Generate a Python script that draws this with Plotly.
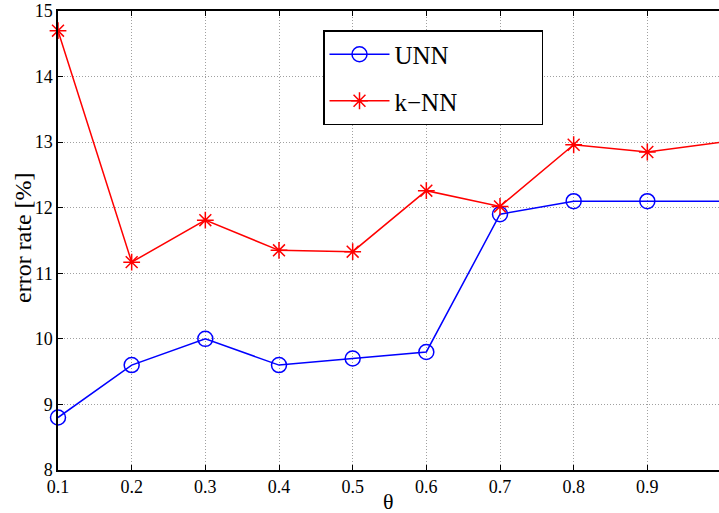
import plotly.graph_objects as go

theta = [0.1, 0.2, 0.3, 0.4, 0.5, 0.6, 0.7, 0.8, 0.9, 1.0]
unn = [8.8, 9.6, 10.0, 9.6, 9.7, 9.8, 11.9, 12.1, 12.1, 12.1]
knn = [14.7, 11.17, 11.81, 11.35, 11.33, 12.26, 12.02, 12.96, 12.85, 13.0]
xticks = [0.1, 0.2, 0.3, 0.4, 0.5, 0.6, 0.7, 0.8, 0.9, 1.0]
xticklabels = ["0.1", "0.2", "0.3", "0.4", "0.5", "0.6", "0.7", "0.8", "0.9", "1"]
yticks = [8, 9, 10, 11, 12, 13, 14, 15]

W, H = 719, 513
L, R, T, B = 58, 0, 11, 43
PW, PH = W - L - R, H - T - B
px_per_tenth = (721 - 58) / 9.0
xmax = 0.1 + PW / px_per_tenth * 0.1

serif = "Times New Roman, Liberation Serif, DejaVu Serif, serif"
pad = "\u00a0" * 14

fig = go.Figure()
fig.add_trace(go.Scatter(
    x=theta, y=unn, name="UNN" + pad, mode="lines+markers",
    line=dict(color="#0000ff", width=1.5),
    marker=dict(symbol="circle-open", size=15, color="#0000ff", line=dict(width=1.5)),
    cliponaxis=False, legendgroup="a"))
fig.add_trace(go.Scatter(
    x=theta, y=knn, name="k\u2212NN", mode="lines+markers",
    line=dict(color="#ff0000", width=1.5),
    marker=dict(symbol="asterisk-open", size=14, color="#ff0000", line=dict(width=1.5, color="#ff0000")),
    cliponaxis=False, legendgroup="b"))

grid = dict(showgrid=True, gridcolor="#a0a0a0", gridwidth=1, griddash="1px,2px")
fig.update_layout(
    width=W, height=H,
    margin=dict(l=L, r=R, t=T, b=B, autoexpand=False),
    paper_bgcolor="white", plot_bgcolor="white",
    font=dict(family=serif, size=18, color="black"),
    showlegend=True,
    legend=dict(x=(323 - L) / PW, y=1 - (30 - T) / PH,
                xanchor="left", yanchor="top",
                bordercolor="black", borderwidth=1.5, bgcolor="white",
                font=dict(family=serif, size=25, color="black"),
                itemwidth=60, tracegroupgap=11),
    xaxis=dict(range=[0.1, xmax], tickmode="array", tickvals=xticks[:-1], ticktext=xticklabels[:-1],
               ticks="inside", ticklen=5, tickwidth=1, tickcolor="black",
               showline=True, linecolor="black", linewidth=1.5, mirror="ticks",
               zeroline=False, automargin=False, tickfont=dict(family=serif, size=18), **grid),
    yaxis=dict(range=[8, 15], tickmode="array", tickvals=yticks,
               ticks="inside", ticklen=5, tickwidth=1, tickcolor="black",
               showline=True, linecolor="black", linewidth=1.5, mirror=False,
               zeroline=False, automargin=False, tickfont=dict(family=serif, size=18), **grid),
)
fig.add_annotation(x=1.0, xref="x", y=0, yref="paper", yanchor="top", yshift=-4,
                   text=xticklabels[-1], showarrow=False, font=dict(family=serif, size=18))
fig.add_annotation(x=(388 - L) / PW, xref="paper", y=0, yref="paper", yanchor="middle", yshift=-31,
                   text="\u03b8", showarrow=False, font=dict(family=serif, size=22))
fig.add_annotation(x=(23 - L) / PW, xref="paper", y=1 - (238 - T) / PH, yref="paper",
                   xanchor="center", yanchor="middle", textangle=-90,
                   text="error rate [%]", showarrow=False, font=dict(family=serif, size=24))
fig.write_html("out.html", config={"displayModeBar": False},
               post_script="document.body.style.margin='0';document.body.style.padding='0';")
